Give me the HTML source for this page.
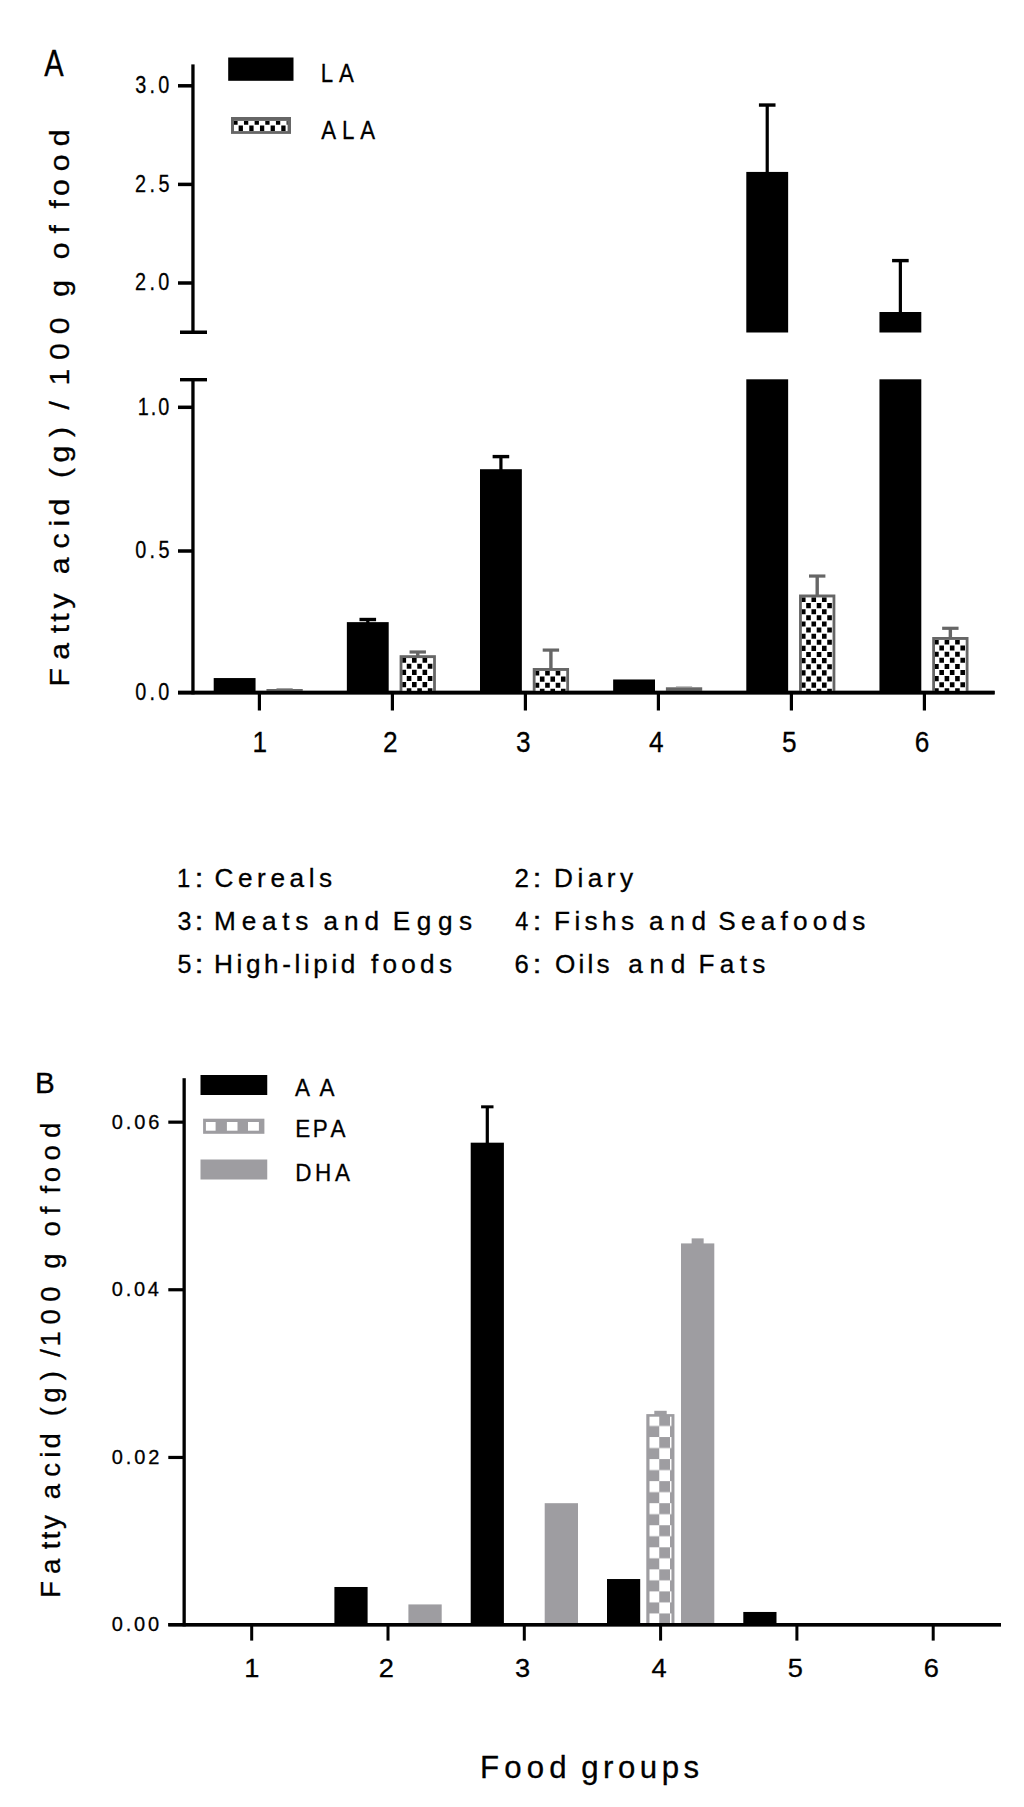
<!DOCTYPE html>
<html><head><meta charset="utf-8"><title>Fatty acid content by food group</title>
<style>
html,body{margin:0;padding:0;background:#fff}
svg{display:block}
text{font-family:"Liberation Sans",sans-serif;font-kerning:none;white-space:pre;stroke:#000;stroke-width:0.3px}
</style></head><body>
<svg width="1024" height="1807" viewBox="0 0 1024 1807">
<defs>
<pattern id="chkB" patternUnits="userSpaceOnUse" x="648.5" y="1415.0" width="21.5" height="22.05">
<rect x="0" y="0" width="21.5" height="22.05" fill="#fff"/>
<rect x="10.75" y="0" width="10.75" height="11.0" fill="#9e9da1"/>
<rect x="0" y="11.0" width="10.75" height="11.05" fill="#9e9da1"/>
</pattern>
</defs>
<rect x="0" y="0" width="1024" height="1807" fill="#fff"/>
<rect x="191.30" y="64.40" width="3.30" height="269.50" fill="#000" />
<rect x="180.00" y="330.50" width="27.00" height="3.50" fill="#000" />
<rect x="180.00" y="378.00" width="27.00" height="3.40" fill="#000" />
<rect x="191.30" y="378.00" width="3.30" height="316.40" fill="#000" />
<rect x="178.00" y="690.80" width="816.60" height="3.60" fill="#000" />
<rect x="178.00" y="84.05" width="14.30" height="3.50" fill="#000" />
<rect x="178.00" y="182.65" width="14.30" height="3.50" fill="#000" />
<rect x="178.00" y="281.25" width="14.30" height="3.50" fill="#000" />
<rect x="178.00" y="405.55" width="14.30" height="3.50" fill="#000" />
<rect x="178.00" y="549.25" width="14.30" height="3.50" fill="#000" />
<rect x="257.80" y="694.00" width="3.20" height="16.50" fill="#000" />
<rect x="390.80" y="694.00" width="3.20" height="16.50" fill="#000" />
<rect x="523.80" y="694.00" width="3.20" height="16.50" fill="#000" />
<rect x="656.80" y="694.00" width="3.20" height="16.50" fill="#000" />
<rect x="789.80" y="694.00" width="3.20" height="16.50" fill="#000" />
<rect x="922.80" y="694.00" width="3.20" height="16.50" fill="#000" />
<text transform="translate(135.34,93.25) scale(0.8300,1)" font-size="23.90" letter-spacing="3.89" fill="#000">3.0</text>
<text transform="translate(135.10,191.85) scale(0.8300,1)" font-size="23.90" letter-spacing="4.07" fill="#000">2.5</text>
<text transform="translate(135.10,290.45) scale(0.8300,1)" font-size="23.90" letter-spacing="4.03" fill="#000">2.0</text>
<text transform="translate(137.79,414.75) scale(0.8300,1)" font-size="23.90" letter-spacing="2.42" fill="#000">1.0</text>
<text transform="translate(135.33,558.45) scale(0.8300,1)" font-size="23.90" letter-spacing="3.93" fill="#000">0.5</text>
<text transform="translate(135.33,700.05) scale(0.8300,1)" font-size="23.90" letter-spacing="3.90" fill="#000">0.0</text>
<text transform="translate(252.45,752.30) scale(0.8800,1)" font-size="29.80" letter-spacing="0.00" fill="#000">1</text>
<text transform="translate(382.91,752.30) scale(0.8800,1)" font-size="29.80" letter-spacing="0.00" fill="#000">2</text>
<text transform="translate(515.98,752.30) scale(0.8800,1)" font-size="29.80" letter-spacing="0.00" fill="#000">3</text>
<text transform="translate(648.99,752.30) scale(0.8800,1)" font-size="29.80" letter-spacing="0.00" fill="#000">4</text>
<text transform="translate(781.93,752.30) scale(0.8800,1)" font-size="29.80" letter-spacing="0.00" fill="#000">5</text>
<text transform="translate(914.82,752.30) scale(0.8800,1)" font-size="29.80" letter-spacing="0.00" fill="#000">6</text>
<text transform="translate(44.24,75.80) scale(0.7888,1)" font-size="36.90" letter-spacing="0.00" fill="#000">A</text>
<rect x="228.20" y="57.50" width="65.30" height="23.30" fill="#000" />
<rect x="231.00" y="117.00" width="60.00" height="16.90" fill="#666" />
<rect x="234.00" y="120.90" width="53.60" height="10.20" fill="#fff" />
<path d="M234.00 120.90h3.60v3.80h-3.60zM243.96 120.90h4.30v3.80h-4.30zM254.62 120.90h4.30v3.80h-4.30zM265.28 120.90h4.30v3.80h-4.30zM275.94 120.90h4.30v3.80h-4.30zM286.60 120.90h1.00v3.80h-1.00zM238.63 125.50h4.30v5.40h-4.30zM249.29 125.50h4.30v5.40h-4.30zM259.95 125.50h4.30v5.40h-4.30zM270.61 125.50h4.30v5.40h-4.30zM281.27 125.50h4.30v5.40h-4.30z" fill="#000"/>
<text transform="translate(320.68,81.60) scale(0.8520,1)" font-size="26.10" letter-spacing="6.95" fill="#000">LA</text>
<text transform="translate(321.21,138.60) scale(0.8520,1)" font-size="26.10" letter-spacing="6.93" fill="#000">ALA</text>
<text transform="translate(68.70,0) rotate(-90) scale(1.0850,1)" x="-632.62 -608.04 -583.60 -573.14 -560.87" y="0" font-size="27.80" fill="#000">Fatty</text>
<text transform="translate(68.70,0) rotate(-90) scale(1.0850,1)" x="-529.29 -505.61 -485.16 -475.07" y="0" font-size="27.80" fill="#000">acid</text>
<text transform="translate(68.70,0) rotate(-90) scale(1.0850,1)" x="-440.57 -426.36 -402.70" y="0" font-size="27.80" fill="#000">(g)</text>
<text transform="translate(68.70,0) rotate(-90) scale(1.0850,1)" x="-377.50" y="0" font-size="27.80" fill="#000">/</text>
<text transform="translate(68.70,0) rotate(-90) scale(1.0850,1)" x="-355.21 -331.74 -307.96" y="0" font-size="27.80" fill="#000">100</text>
<text transform="translate(68.70,0) rotate(-90) scale(1.0850,1)" x="-273.41" y="0" font-size="27.80" fill="#000">g</text>
<text transform="translate(68.70,0) rotate(-90) scale(1.0850,1)" x="-239.02 -215.19" y="0" font-size="27.80" fill="#000">of</text>
<text transform="translate(68.70,0) rotate(-90) scale(1.0850,1)" x="-192.24 -180.77 -157.82 -134.70" y="0" font-size="27.80" fill="#000">food</text>
<rect x="213.70" y="678.05" width="41.85" height="13.95" fill="#000" />
<rect x="266.45" y="689.01" width="36.30" height="2.49" fill="#666" />
<rect x="276.50" y="688.21" width="16.20" height="1.00" fill="#8a8a8a" />
<rect x="346.85" y="622.13" width="41.85" height="69.87" fill="#000" />
<rect x="366.18" y="619.51" width="3.20" height="3.62" fill="#000" />
<rect x="359.48" y="617.81" width="16.60" height="3.40" fill="#000" />
<rect x="399.60" y="655.20" width="36.30" height="36.80" fill="#666" />
<rect x="402.40" y="658.10" width="30.70" height="33.90" fill="#fff" />
<path d="M402.40 658.10h3.70v4.60h-3.70zM412.02 658.10h4.60v4.60h-4.60zM422.54 658.10h4.60v4.60h-4.60zM406.76 663.72h4.60v5.10h-4.60zM417.28 663.72h4.60v5.10h-4.60zM427.80 663.72h4.60v5.10h-4.60zM402.40 669.84h3.70v5.10h-3.70zM412.02 669.84h4.60v5.10h-4.60zM422.54 669.84h4.60v5.10h-4.60zM406.76 675.96h4.60v5.10h-4.60zM417.28 675.96h4.60v5.10h-4.60zM427.80 675.96h4.60v5.10h-4.60zM402.40 682.08h3.70v5.10h-3.70zM412.02 682.08h4.60v5.10h-4.60zM422.54 682.08h4.60v5.10h-4.60zM406.76 688.20h4.60v3.30h-4.60zM417.28 688.20h4.60v3.30h-4.60zM427.80 688.20h4.60v3.30h-4.60z" fill="#000"/>
<rect x="416.05" y="652.00" width="3.40" height="4.20" fill="#666" />
<rect x="409.55" y="650.40" width="16.40" height="3.20" fill="#666" />
<rect x="480.00" y="469.21" width="41.85" height="222.79" fill="#000" />
<rect x="499.32" y="456.60" width="3.20" height="13.61" fill="#000" />
<rect x="492.62" y="454.90" width="16.60" height="3.40" fill="#000" />
<rect x="532.75" y="668.01" width="36.30" height="23.99" fill="#666" />
<rect x="535.55" y="670.91" width="30.70" height="21.09" fill="#fff" />
<path d="M535.55 670.91h3.70v4.60h-3.70zM545.17 670.91h4.60v4.60h-4.60zM555.69 670.91h4.60v4.60h-4.60zM539.91 676.53h4.60v5.10h-4.60zM550.43 676.53h4.60v5.10h-4.60zM560.95 676.53h4.60v5.10h-4.60zM535.55 682.65h3.70v5.10h-3.70zM545.17 682.65h4.60v5.10h-4.60zM555.69 682.65h4.60v5.10h-4.60zM539.91 688.77h4.60v2.73h-4.60zM550.43 688.77h4.60v2.73h-4.60zM560.95 688.77h4.60v2.73h-4.60z" fill="#000"/>
<rect x="549.20" y="650.09" width="3.40" height="18.92" fill="#666" />
<rect x="542.70" y="648.49" width="16.40" height="3.20" fill="#666" />
<rect x="613.15" y="679.48" width="41.85" height="12.52" fill="#000" />
<rect x="665.90" y="687.29" width="36.30" height="4.21" fill="#666" />
<rect x="675.95" y="686.49" width="16.20" height="1.00" fill="#8a8a8a" />
<rect x="746.30" y="379.30" width="41.85" height="312.70" fill="#000" />
<rect x="746.30" y="171.92" width="41.85" height="160.58" fill="#000" />
<rect x="765.62" y="105.04" width="3.20" height="67.88" fill="#000" />
<rect x="758.92" y="103.34" width="16.60" height="3.40" fill="#000" />
<rect x="799.05" y="594.51" width="36.30" height="97.49" fill="#666" />
<rect x="801.85" y="597.41" width="30.70" height="94.59" fill="#fff" />
<path d="M801.85 597.41h3.70v4.60h-3.70zM811.47 597.41h4.60v4.60h-4.60zM821.99 597.41h4.60v4.60h-4.60zM806.21 603.03h4.60v5.10h-4.60zM816.73 603.03h4.60v5.10h-4.60zM827.25 603.03h4.60v5.10h-4.60zM801.85 609.15h3.70v5.10h-3.70zM811.47 609.15h4.60v5.10h-4.60zM821.99 609.15h4.60v5.10h-4.60zM806.21 615.27h4.60v5.10h-4.60zM816.73 615.27h4.60v5.10h-4.60zM827.25 615.27h4.60v5.10h-4.60zM801.85 621.39h3.70v5.10h-3.70zM811.47 621.39h4.60v5.10h-4.60zM821.99 621.39h4.60v5.10h-4.60zM806.21 627.51h4.60v5.10h-4.60zM816.73 627.51h4.60v5.10h-4.60zM827.25 627.51h4.60v5.10h-4.60zM801.85 633.63h3.70v5.10h-3.70zM811.47 633.63h4.60v5.10h-4.60zM821.99 633.63h4.60v5.10h-4.60zM806.21 639.75h4.60v5.10h-4.60zM816.73 639.75h4.60v5.10h-4.60zM827.25 639.75h4.60v5.10h-4.60zM801.85 645.87h3.70v5.10h-3.70zM811.47 645.87h4.60v5.10h-4.60zM821.99 645.87h4.60v5.10h-4.60zM806.21 651.99h4.60v5.10h-4.60zM816.73 651.99h4.60v5.10h-4.60zM827.25 651.99h4.60v5.10h-4.60zM801.85 658.11h3.70v5.10h-3.70zM811.47 658.11h4.60v5.10h-4.60zM821.99 658.11h4.60v5.10h-4.60zM806.21 664.23h4.60v5.10h-4.60zM816.73 664.23h4.60v5.10h-4.60zM827.25 664.23h4.60v5.10h-4.60zM801.85 670.35h3.70v5.10h-3.70zM811.47 670.35h4.60v5.10h-4.60zM821.99 670.35h4.60v5.10h-4.60zM806.21 676.47h4.60v5.10h-4.60zM816.73 676.47h4.60v5.10h-4.60zM827.25 676.47h4.60v5.10h-4.60zM801.85 682.59h3.70v5.10h-3.70zM811.47 682.59h4.60v5.10h-4.60zM821.99 682.59h4.60v5.10h-4.60zM806.21 688.71h4.60v2.79h-4.60zM816.73 688.71h4.60v2.79h-4.60zM827.25 688.71h4.60v2.79h-4.60z" fill="#000"/>
<rect x="815.50" y="576.05" width="3.40" height="19.46" fill="#666" />
<rect x="809.00" y="574.45" width="16.40" height="3.20" fill="#666" />
<rect x="879.45" y="379.30" width="41.85" height="312.70" fill="#000" />
<rect x="879.45" y="312.00" width="41.85" height="20.50" fill="#000" />
<rect x="898.77" y="260.61" width="3.20" height="52.40" fill="#000" />
<rect x="892.08" y="258.91" width="16.60" height="3.40" fill="#000" />
<rect x="932.20" y="637.00" width="36.30" height="55.00" fill="#666" />
<rect x="935.00" y="639.90" width="30.70" height="52.10" fill="#fff" />
<path d="M935.00 639.90h3.70v4.60h-3.70zM944.62 639.90h4.60v4.60h-4.60zM955.14 639.90h4.60v4.60h-4.60zM939.36 645.52h4.60v5.10h-4.60zM949.88 645.52h4.60v5.10h-4.60zM960.40 645.52h4.60v5.10h-4.60zM935.00 651.64h3.70v5.10h-3.70zM944.62 651.64h4.60v5.10h-4.60zM955.14 651.64h4.60v5.10h-4.60zM939.36 657.76h4.60v5.10h-4.60zM949.88 657.76h4.60v5.10h-4.60zM960.40 657.76h4.60v5.10h-4.60zM935.00 663.88h3.70v5.10h-3.70zM944.62 663.88h4.60v5.10h-4.60zM955.14 663.88h4.60v5.10h-4.60zM939.36 670.00h4.60v5.10h-4.60zM949.88 670.00h4.60v5.10h-4.60zM960.40 670.00h4.60v5.10h-4.60zM935.00 676.12h3.70v5.10h-3.70zM944.62 676.12h4.60v5.10h-4.60zM955.14 676.12h4.60v5.10h-4.60zM939.36 682.24h4.60v5.10h-4.60zM949.88 682.24h4.60v5.10h-4.60zM960.40 682.24h4.60v5.10h-4.60zM935.00 688.36h3.70v3.14h-3.70zM944.62 688.36h4.60v3.14h-4.60zM955.14 688.36h4.60v3.14h-4.60z" fill="#000"/>
<rect x="948.65" y="628.29" width="3.40" height="9.70" fill="#666" />
<rect x="942.15" y="626.69" width="16.40" height="3.20" fill="#666" />
<rect x="178.00" y="690.80" width="816.60" height="3.60" fill="#000" />
<text transform="translate(176.94,886.60) scale(0.9074,1)" font-size="26.20" letter-spacing="0.00" fill="#000">1</text>
<text transform="translate(194.53,886.60) scale(1.2427,1)" font-size="26.20" letter-spacing="0.00" fill="#000">:</text>
<text transform="translate(214.42,886.60) scale(1.0000,1)" font-size="26.20" letter-spacing="4.59" fill="#000">Cereals</text>
<text transform="translate(177.44,929.60) scale(0.9580,1)" font-size="26.20" letter-spacing="0.00" fill="#000">3</text>
<text transform="translate(194.53,929.60) scale(1.2427,1)" font-size="26.20" letter-spacing="0.00" fill="#000">:</text>
<text transform="translate(214.10,929.60) scale(1.0000,1)" font-size="26.20" letter-spacing="5.75" fill="#000">Meats</text>
<text transform="translate(323.39,929.60) scale(1.0000,1)" font-size="26.20" letter-spacing="6.04" fill="#000">and</text>
<text transform="translate(392.85,929.60) scale(1.0000,1)" font-size="26.20" letter-spacing="6.53" fill="#000">Eggs</text>
<text transform="translate(177.40,972.50) scale(0.9580,1)" font-size="26.20" letter-spacing="0.00" fill="#000">5</text>
<text transform="translate(194.53,972.50) scale(1.2427,1)" font-size="26.20" letter-spacing="0.00" fill="#000">:</text>
<text transform="translate(214.10,972.50) scale(1.0000,1)" font-size="26.20" letter-spacing="3.57" fill="#000">High-lipid</text>
<text transform="translate(370.88,972.50) scale(1.0000,1)" font-size="26.20" letter-spacing="4.27" fill="#000">foods</text>
<text transform="translate(514.44,886.60) scale(0.9928,1)" font-size="26.20" letter-spacing="0.00" fill="#000">2</text>
<text transform="translate(532.53,886.60) scale(1.2427,1)" font-size="26.20" letter-spacing="0.00" fill="#000">:</text>
<text transform="translate(554.05,886.60) scale(1.0000,1)" font-size="26.20" letter-spacing="4.49" fill="#000">Diary</text>
<text transform="translate(515.21,929.60) scale(0.8976,1)" font-size="26.20" letter-spacing="0.00" fill="#000">4</text>
<text transform="translate(532.53,929.60) scale(1.2427,1)" font-size="26.20" letter-spacing="0.00" fill="#000">:</text>
<text transform="translate(554.05,929.60) scale(1.0000,1)" font-size="26.20" letter-spacing="4.35" fill="#000">Fishs</text>
<text transform="translate(648.89,929.60) scale(1.0000,1)" font-size="26.20" letter-spacing="6.74" fill="#000">and</text>
<text transform="translate(718.21,929.60) scale(1.0000,1)" font-size="26.20" letter-spacing="5.22" fill="#000">Seafoods</text>
<text transform="translate(514.45,972.50) scale(0.9802,1)" font-size="26.20" letter-spacing="0.00" fill="#000">6</text>
<text transform="translate(532.53,972.50) scale(1.2427,1)" font-size="26.20" letter-spacing="0.00" fill="#000">:</text>
<text transform="translate(554.96,972.50) scale(1.0000,1)" font-size="26.20" letter-spacing="3.19" fill="#000">Oils</text>
<text transform="translate(628.29,972.50) scale(1.0000,1)" font-size="26.20" letter-spacing="6.69" fill="#000">and</text>
<text transform="translate(698.45,972.50) scale(1.0000,1)" font-size="26.20" letter-spacing="5.31" fill="#000">Fats</text>
<rect x="182.50" y="1078.20" width="3.30" height="548.20" fill="#000" />
<rect x="168.30" y="1623.00" width="832.70" height="3.40" fill="#000" />
<rect x="168.30" y="1120.55" width="15.20" height="3.20" fill="#000" />
<rect x="168.30" y="1288.15" width="15.20" height="3.20" fill="#000" />
<rect x="168.30" y="1455.85" width="15.20" height="3.20" fill="#000" />
<rect x="250.20" y="1626.00" width="3.00" height="14.60" fill="#000" />
<rect x="386.50" y="1626.00" width="3.00" height="14.60" fill="#000" />
<rect x="522.80" y="1626.00" width="3.00" height="14.60" fill="#000" />
<rect x="659.10" y="1626.00" width="3.00" height="14.60" fill="#000" />
<rect x="795.40" y="1626.00" width="3.00" height="14.60" fill="#000" />
<rect x="931.70" y="1626.00" width="3.00" height="14.60" fill="#000" />
<text transform="translate(111.82,1128.70) scale(1.0000,1)" font-size="20.00" letter-spacing="2.84" fill="#000">0.06</text>
<text transform="translate(111.82,1296.30) scale(1.0000,1)" font-size="20.00" letter-spacing="2.75" fill="#000">0.04</text>
<text transform="translate(111.82,1464.00) scale(1.0000,1)" font-size="20.00" letter-spacing="2.89" fill="#000">0.02</text>
<text transform="translate(111.82,1631.40) scale(1.0000,1)" font-size="20.00" letter-spacing="2.81" fill="#000">0.00</text>
<text transform="translate(244.36,1676.70) scale(1.0800,1)" font-size="25.20" letter-spacing="0.00" fill="#000">1</text>
<text transform="translate(378.73,1676.70) scale(1.0800,1)" font-size="25.20" letter-spacing="0.00" fill="#000">2</text>
<text transform="translate(515.11,1676.70) scale(1.0800,1)" font-size="25.20" letter-spacing="0.00" fill="#000">3</text>
<text transform="translate(651.42,1676.70) scale(1.0800,1)" font-size="25.20" letter-spacing="0.00" fill="#000">4</text>
<text transform="translate(787.66,1676.70) scale(1.0800,1)" font-size="25.20" letter-spacing="0.00" fill="#000">5</text>
<text transform="translate(923.84,1676.70) scale(1.0800,1)" font-size="25.20" letter-spacing="0.00" fill="#000">6</text>
<text transform="translate(35.07,1093.00) scale(1.0169,1)" font-size="29.10" letter-spacing="0.00" fill="#000">B</text>
<rect x="200.50" y="1075.00" width="66.75" height="20.00" fill="#000" />
<rect x="203.10" y="1118.70" width="61.30" height="15.10" fill="#9e9da1" />
<rect x="205.90" y="1122.00" width="9.70" height="8.70" fill="#fff" />
<rect x="226.90" y="1122.00" width="10.60" height="8.70" fill="#fff" />
<rect x="248.00" y="1122.00" width="10.90" height="8.70" fill="#fff" />
<rect x="200.50" y="1159.50" width="66.75" height="20.00" fill="#9e9da1" />
<text transform="translate(294.96,1096.25) scale(0.9600,1)" font-size="23.40" letter-spacing="10.02" fill="#000">AA</text>
<text transform="translate(295.16,1137.00) scale(0.9600,1)" font-size="23.40" letter-spacing="2.83" fill="#000">EPA</text>
<text transform="translate(295.16,1180.75) scale(0.9600,1)" font-size="23.40" letter-spacing="3.88" fill="#000">DHA</text>
<text transform="translate(59.80,0) rotate(-90) scale(1.0000,1)" x="-1597.78 -1573.93 -1549.23 -1539.23 -1528.98" y="0" font-size="27.50" fill="#000">Fatty</text>
<text transform="translate(59.80,0) rotate(-90) scale(1.0000,1)" x="-1499.23 -1476.70 -1457.65 -1448.54" y="0" font-size="27.50" fill="#000">acid</text>
<text transform="translate(59.80,0) rotate(-90) scale(1.0000,1)" x="-1416.15 -1402.74 -1380.31" y="0" font-size="27.50" fill="#000">(g)</text>
<text transform="translate(59.80,0) rotate(-90) scale(1.0000,1)" x="-1356.72 -1346.42 -1324.45 -1301.65" y="0" font-size="27.50" fill="#000">/100</text>
<text transform="translate(59.80,0) rotate(-90) scale(1.0000,1)" x="-1268.74" y="0" font-size="27.50" fill="#000">g</text>
<text transform="translate(59.80,0) rotate(-90) scale(1.0000,1)" x="-1236.45 -1214.34" y="0" font-size="27.50" fill="#000">of</text>
<text transform="translate(59.80,0) rotate(-90) scale(1.0000,1)" x="-1193.44 -1182.35 -1160.45 -1138.04" y="0" font-size="27.50" fill="#000">food</text>
<text transform="translate(479.94,1777.50) scale(1.0000,1)" font-size="31.20" letter-spacing="5.15" fill="#000">Food</text>
<text transform="translate(581.19,1777.50) scale(1.0000,1)" font-size="31.20" letter-spacing="4.51" fill="#000">groups</text>
<rect x="334.40" y="1586.99" width="33.20" height="37.01" fill="#000" />
<rect x="408.40" y="1604.42" width="33.30" height="19.58" fill="#9e9da1" />
<rect x="470.70" y="1142.68" width="33.20" height="481.32" fill="#000" />
<rect x="485.70" y="1106.82" width="3.20" height="36.87" fill="#000" />
<rect x="481.10" y="1105.32" width="12.40" height="3.00" fill="#000" />
<rect x="544.70" y="1503.19" width="33.30" height="120.81" fill="#9e9da1" />
<rect x="607.00" y="1579.03" width="33.20" height="44.97" fill="#000" />
<rect x="681.00" y="1243.41" width="33.30" height="380.59" fill="#9e9da1" />
<rect x="691.65" y="1238.38" width="12.00" height="6.03" fill="#9e9da1" />
<rect x="743.30" y="1611.96" width="33.20" height="12.04" fill="#000" />
<rect x="646.30" y="1414.10" width="28.15" height="209.90" fill="#9e9da1" />
<rect x="649.50" y="1416.70" width="21.95" height="207.30" fill="url(#chkB)" />
<rect x="654.30" y="1410.80" width="12.40" height="4.30" fill="#9e9da1" />
<rect x="168.30" y="1623.00" width="832.70" height="3.40" fill="#000" />
</svg>
</body></html>
